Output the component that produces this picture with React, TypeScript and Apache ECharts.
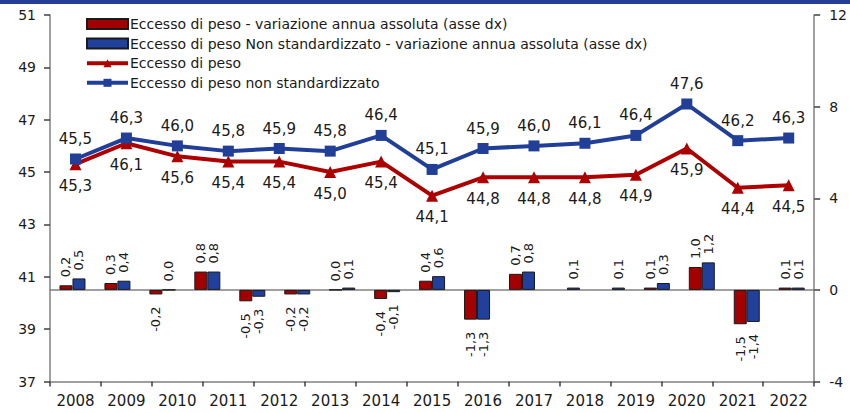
import React, { useEffect, useRef } from "react";
import * as echarts from "echarts";

const years = ["2008", "2009", "2010", "2011", "2012", "2013", "2014", "2015", "2016", "2017", "2018", "2019", "2020", "2021", "2022"];
const barSlots = ["1", "2", "3", "4", "5", "6", "7", "8", "9", "10", "11", "12", "13", "14", "15", "16", "17"];
const redBars: (number | null)[] = [0.2, 0.3, -0.2, 0.8, -0.5, -0.2, 0.0, -0.4, 0.4, -1.3, 0.7, null, null, 0.1, 1.0, -1.5, 0.1];
const blueBars: (number | null)[] = [0.5, 0.4, 0.0, 0.8, -0.3, -0.2, 0.1, -0.1, 0.6, -1.3, 0.8, 0.1, 0.1, 0.3, 1.2, -1.4, 0.1];
const redLine = [45.3, 46.1, 45.6, 45.4, 45.4, 45.0, 45.4, 44.1, 44.8, 44.8, 44.8, 44.9, 45.9, 44.4, 44.5];
const blueLine = [45.5, 46.3, 46.0, 45.8, 45.9, 45.8, 46.4, 45.1, 45.9, 46.0, 46.1, 46.4, 47.6, 46.2, 46.3];
const names = [
  "Eccesso di peso - variazione annua assoluta (asse dx)",
  "Eccesso di peso Non standardizzato - variazione annua assoluta (asse dx)",
  "Eccesso di peso",
  "Eccesso di peso non standardizzato",
];

const FONT = "DejaVu Sans";
const TEXT = "#1a1a1a";
const AXIS = "#808080";
const RED_BAR = "#a30000";
const BLUE_BAR = "#21409c";
const RED_LINE = "#ad0000";
const BLUE_LINE = "#223f98";

const fmt = (v: number) => v.toFixed(1).replace(".", ",");

const barData = (arr: (number | null)[]) =>
  arr.map((v) =>
    v === null
      ? null
      : {
          value: v,
          label: {
            position: v < 0 ? "bottom" : "top",
            align: v < 0 ? "right" : "left",
            verticalAlign: "middle",
            distance: v < 0 ? 12 : 8,
          },
        }
  );

export default function App() {
  const ref = useRef<HTMLDivElement>(null);
  useEffect(() => {
    if (!ref.current) return;
    const chart = echarts.init(ref.current, undefined, { renderer: "svg" });
    const barLabel = {
      show: true,
      rotate: 90,
      fontFamily: FONT,
      fontSize: 13,
      color: TEXT,
      formatter: (p: any) => fmt(p.value),
    };
    chart.setOption({
      animation: false,
      textStyle: { fontFamily: FONT },
      graphic: [
        { type: "rect", shape: { x: 0, y: 0, width: 850, height: 4 }, style: { fill: "#243f94" }, z: 10 },
      ],
      legend: {
        orient: "vertical",
        left: 80,
        top: 12,
        itemWidth: 41,
        itemHeight: 10,
        itemGap: 5.6,
        data: [
          { name: names[0], icon: "rect" },
          { name: names[1], icon: "rect" },
          { name: names[2] },
          { name: names[3] },
        ],
        lineStyle: { width: 4 },
        textStyle: { fontFamily: FONT, fontSize: 14, color: TEXT, padding: [0, 0, 0, -3] },
      },
      grid: { left: 50, right: 33, top: 15, bottom: 31.5 },
      xAxis: [
        {
          type: "category",
          data: years,
          position: "bottom",
          axisLine: { onZero: false, lineStyle: { color: AXIS, width: 1.5 } },
          axisTick: { show: true, length: 5, lineStyle: { color: "#404040", width: 1.5 } },
          axisLabel: { fontFamily: FONT, fontSize: 15, color: TEXT, margin: 12 },
          splitLine: { show: false },
        },
        {
          type: "category",
          data: barSlots,
          position: "top",
          axisLine: { onZero: true, onZeroAxisIndex: 1, lineStyle: { color: AXIS, width: 1.5 } },
          axisTick: { show: false },
          axisLabel: { show: false },
          splitLine: { show: false },
        },
      ],
      yAxis: [
        {
          type: "value",
          min: 37,
          max: 51,
          interval: 2,
          position: "left",
          axisLine: { show: true, onZero: false, lineStyle: { color: AXIS, width: 1.5 } },
          axisTick: { show: true, length: 6, lineStyle: { color: "#404040", width: 1.5 } },
          axisLabel: { fontFamily: FONT, fontSize: 14, color: TEXT, margin: 14 },
          splitLine: { show: false },
        },
        {
          type: "value",
          min: -4,
          max: 12,
          interval: 4,
          position: "right",
          axisLine: { show: true, onZero: false, lineStyle: { color: AXIS, width: 1.5 } },
          axisTick: { show: true, length: 6, lineStyle: { color: "#404040", width: 1.5 } },
          axisLabel: { fontFamily: FONT, fontSize: 14, color: TEXT, margin: 15 },
          splitLine: { show: false },
        },
      ],
      series: [
        {
          name: names[0],
          type: "bar",
          xAxisIndex: 1,
          yAxisIndex: 1,
          data: barData(redBars),
          barWidth: 13,
          barGap: "0%",
          itemStyle: { color: RED_BAR, borderColor: "#1a1a1a", borderWidth: 1 },
          label: barLabel,
          z: 2,
        },
        {
          name: names[1],
          type: "bar",
          xAxisIndex: 1,
          yAxisIndex: 1,
          data: barData(blueBars),
          barWidth: 13,
          barGap: "0%",
          itemStyle: { color: BLUE_BAR, borderColor: "#1a1a1a", borderWidth: 1 },
          label: barLabel,
          z: 2,
        },
        {
          name: names[2],
          type: "line",
          xAxisIndex: 0,
          yAxisIndex: 0,
          data: redLine,
          symbol: "triangle",
          symbolSize: 12,
          lineStyle: { color: RED_LINE, width: 4 },
          itemStyle: { color: RED_LINE },
          label: {
            show: true,
            position: "bottom",
            distance: 8,
            fontFamily: FONT,
            fontSize: 15,
            color: TEXT,
            formatter: (p: any) => fmt(p.value),
          },
          z: 3,
        },
        {
          name: names[3],
          type: "line",
          xAxisIndex: 0,
          yAxisIndex: 0,
          data: blueLine,
          symbol: "rect",
          symbolSize: 11,
          lineStyle: { color: BLUE_LINE, width: 4 },
          itemStyle: { color: BLUE_LINE },
          label: {
            show: true,
            position: "top",
            distance: 7,
            fontFamily: FONT,
            fontSize: 15,
            color: TEXT,
            formatter: (p: any) => fmt(p.value),
          },
          z: 4,
        },
      ],
    });
    return () => chart.dispose();
  }, []);
  return (
    <div
      ref={ref}
      style={{ position: "fixed", left: 0, top: 0, width: 850, height: 413, background: "#fff" }}
    />
  );
}
